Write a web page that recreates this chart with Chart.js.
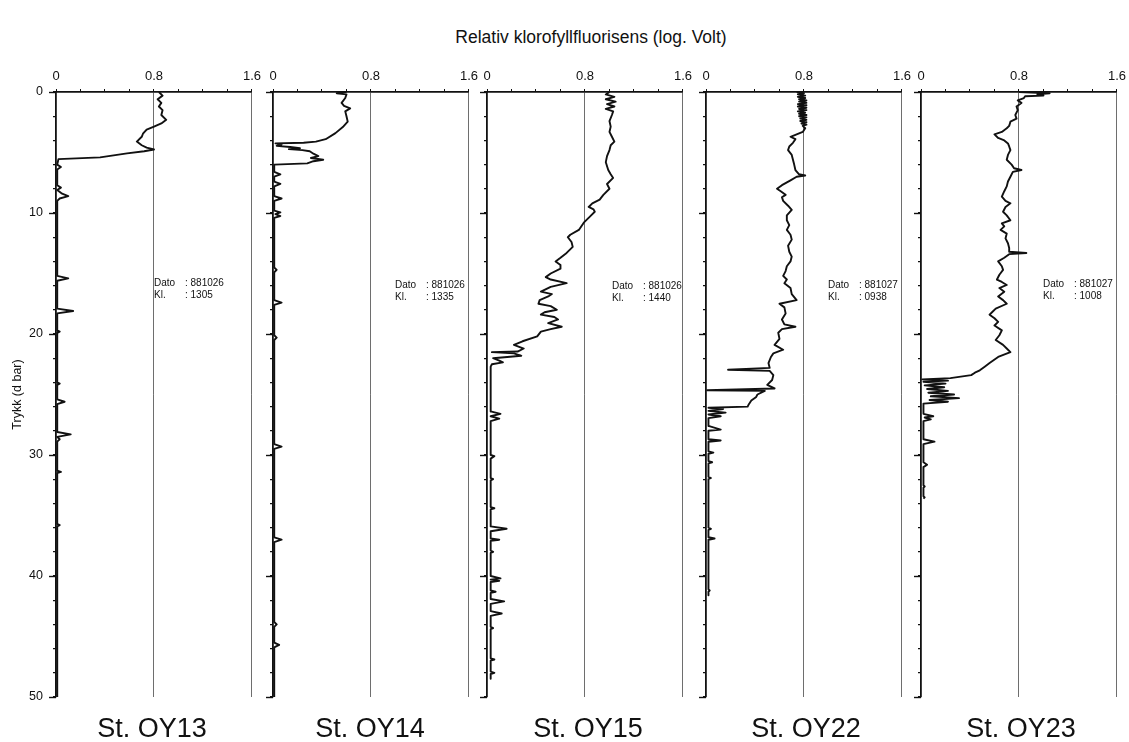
<!DOCTYPE html>
<html><head><meta charset="utf-8">
<script src="https://cdn.jsdelivr.net/npm/chart.js@4.4.0/dist/chart.umd.min.js"></script>
<style>
html,body{margin:0;padding:0;background:#fff;}
body{width:1129px;height:742px;position:relative;overflow:hidden;font-family:"Liberation Sans",Arial,Helvetica,sans-serif;color:#111;}
.wrap{position:absolute;left:0;top:0;}
.txt{position:absolute;white-space:nowrap;line-height:1;}
.c{transform:translate(-50%,-50%);}
.dato{position:absolute;font-size:10px;line-height:12px;white-space:nowrap;color:#111;}
.dato span{display:inline-block;width:31px;}
</style></head><body>
<div class="txt c" id="title" style="left:591px;top:38px;font-size:17.5px;">Relativ klorofyllfluorisens (log. Volt)</div>
<script>
// ---------- DATA ----------
const chartTitle = 'Relativ klorofyllfluorisens (log. Volt)';
const yAxisTitle = 'Trykk (d bar)';
const stations = ['St. OY13', 'St. OY14', 'St. OY15', 'St. OY22', 'St. OY23'];
const datoValues = ['881026', '881026', '881026', '881027', '881027'];
const klValues = ['1305', '1335', '1440', '0938', '1008'];
const xTickLabels = ['0', '0.8', '1.6'];
const yTickLabels = [0, 10, 20, 30, 40, 50];

// profiles: [depth (d bar), relative fluorescence]
const oy13 = [[0,0.84],[0.3,0.87],[0.6,0.83],[0.9,0.86],[1.2,0.84],[1.5,0.87],[1.9,0.86],[2.3,0.90],[2.6,0.86],[2.86,0.80],[3.1,0.74],[3.45,0.71],[3.7,0.70],[4.1,0.66],[4.4,0.70],[4.6,0.74],[4.75,0.80],[4.9,0.72],[5.07,0.58],[5.4,0.36],[5.55,0.02],[6.0,0.01],[6.2,0.04],[6.4,0.01],[7.7,0.01],[7.9,0.04],[8.1,0.01],[8.4,0.05],[8.6,0.10],[8.8,0.03],[9.0,0.01],[15.2,0.01],[15.4,0.10],[15.6,0.01],[17.9,0.01],[18.1,0.14],[18.3,0.01],[19.7,0.01],[19.8,0.03],[19.9,0.01],[24.0,0.01],[24.1,0.03],[24.2,0.01],[25.4,0.01],[25.6,0.07],[25.8,0.01],[28.1,0.01],[28.3,0.12],[28.5,0.01],[28.7,0.03],[28.9,0.01],[31.3,0.01],[31.4,0.04],[31.5,0.01],[35.7,0.01],[35.8,0.03],[35.9,0.01],[50,0.01]];
const oy14 = [[0,0.60],[0.1,0.52],[0.2,0.60],[0.5,0.59],[0.9,0.56],[1.15,0.58],[1.35,0.63],[1.6,0.59],[2.0,0.60],[2.45,0.61],[2.9,0.57],[3.4,0.51],[3.9,0.43],[4.1,0.35],[4.2,0.25],[4.25,0.02],[4.35,0.07],[4.45,0.03],[4.55,0.14],[4.65,0.22],[4.72,0.13],[4.8,0.24],[4.9,0.30],[5.1,0.33],[5.3,0.37],[5.45,0.31],[5.6,0.41],[5.72,0.33],[5.9,0.28],[6.0,0.01],[6.6,0.01],[6.8,0.06],[7.0,0.01],[7.4,0.01],[7.6,0.06],[7.8,0.01],[8.6,0.01],[8.8,0.07],[9.0,0.01],[9.8,0.01],[9.95,0.06],[10.1,0.02],[10.25,0.06],[10.4,0.01],[14.5,0.01],[14.7,0.03],[14.9,0.01],[17.2,0.01],[17.4,0.07],[17.6,0.01],[20.1,0.01],[20.3,0.03],[20.5,0.01],[29.1,0.01],[29.3,0.07],[29.5,0.01],[36.8,0.01],[37.0,0.07],[37.2,0.01],[43.8,0.01],[44.0,0.03],[44.2,0.01],[45.5,0.01],[45.7,0.05],[45.9,0.01],[50,0.01]];
const oy15 = [[0,1.00],[0.2,0.97],[0.4,1.04],[0.6,0.97],[0.8,1.05],[1.0,0.98],[1.2,1.04],[1.4,0.97],[1.6,1.03],[1.9,1.02],[2.4,1.00],[2.86,1.01],[3.3,1.00],[3.7,1.02],[4.1,1.04],[4.4,1.01],[4.8,1.00],[5.3,0.98],[5.8,0.97],[6.45,0.99],[6.8,1.01],[7.1,1.03],[7.6,0.98],[8.0,1.00],[8.5,0.95],[8.9,0.92],[9.2,0.86],[9.5,0.83],[9.7,0.87],[9.9,0.88],[10.3,0.84],[10.8,0.79],[11.4,0.75],[11.8,0.68],[12.0,0.66],[12.4,0.69],[12.8,0.70],[13.3,0.65],[13.7,0.60],[14.0,0.56],[14.3,0.60],[14.6,0.60],[15.0,0.52],[15.3,0.48],[15.5,0.52],[15.8,0.65],[16.1,0.52],[16.5,0.44],[16.7,0.53],[16.9,0.50],[17.2,0.43],[17.5,0.42],[17.7,0.52],[18.0,0.57],[18.2,0.47],[18.4,0.44],[18.6,0.55],[18.8,0.58],[19.1,0.50],[19.4,0.61],[19.6,0.52],[19.8,0.44],[20.2,0.41],[20.6,0.29],[20.9,0.22],[21.2,0.30],[21.45,0.25],[21.5,0.04],[21.6,0.22],[21.8,0.28],[22.0,0.05],[22.2,0.10],[22.35,0.13],[22.5,0.04],[22.7,0.03],[26.4,0.03],[26.6,0.11],[26.8,0.03],[27.0,0.10],[27.2,0.03],[30.0,0.03],[30.1,0.06],[30.3,0.03],[31.9,0.03],[32.0,0.05],[32.1,0.03],[34.3,0.03],[34.4,0.06],[34.5,0.03],[35.9,0.03],[36.1,0.16],[36.3,0.03],[36.9,0.03],[37.0,0.10],[37.1,0.03],[37.9,0.03],[38.0,0.05],[38.1,0.03],[40.0,0.03],[40.2,0.11],[40.3,0.03],[40.4,0.10],[40.5,0.03],[41.2,0.03],[41.3,0.07],[41.4,0.03],[41.9,0.03],[42.1,0.14],[42.3,0.03],[42.9,0.03],[43.1,0.12],[43.3,0.03],[44.2,0.03],[44.3,0.05],[44.4,0.03],[46.8,0.03],[46.9,0.06],[47.0,0.03],[47.9,0.03],[48.0,0.06],[48.1,0.03],[48.5,0.03]];
const oy22 = [[0,0.74],[0.1,0.80],[0.2,0.75],[0.3,0.81],[0.4,0.75],[0.5,0.81],[0.6,0.76],[0.7,0.82],[0.8,0.76],[0.9,0.82],[1.0,0.75],[1.1,0.82],[1.2,0.75],[1.3,0.82],[1.4,0.76],[1.5,0.82],[1.6,0.75],[1.7,0.81],[1.8,0.76],[1.9,0.82],[2.0,0.76],[2.1,0.82],[2.2,0.77],[2.3,0.82],[2.4,0.77],[2.5,0.82],[2.6,0.78],[2.7,0.82],[2.8,0.79],[3.0,0.81],[3.3,0.79],[3.5,0.74],[3.7,0.69],[3.9,0.73],[4.2,0.71],[4.5,0.68],[4.8,0.67],[5.2,0.70],[5.6,0.71],[6.0,0.72],[6.45,0.73],[6.8,0.76],[6.9,0.81],[7.0,0.74],[7.3,0.69],[7.7,0.62],[8.0,0.58],[8.2,0.61],[8.5,0.65],[8.7,0.62],[9.0,0.63],[9.4,0.67],[9.75,0.70],[10.2,0.66],[10.6,0.66],[11.0,0.68],[11.4,0.66],[11.8,0.69],[12.2,0.70],[12.7,0.67],[13.2,0.68],[13.6,0.70],[14.0,0.69],[14.4,0.66],[14.8,0.65],[15.2,0.63],[15.5,0.66],[15.8,0.64],[16.2,0.69],[16.7,0.70],[17.2,0.74],[17.5,0.60],[17.8,0.64],[18.3,0.65],[18.8,0.62],[19.2,0.64],[19.4,0.73],[19.6,0.62],[19.9,0.59],[20.4,0.60],[20.9,0.56],[21.3,0.63],[21.6,0.55],[21.9,0.53],[22.4,0.51],[22.8,0.52],[22.95,0.18],[23.05,0.52],[23.4,0.55],[23.8,0.54],[24.2,0.50],[24.5,0.56],[24.65,0.01],[24.7,0.48],[25.0,0.42],[25.2,0.41],[25.5,0.37],[25.8,0.35],[26.0,0.34],[26.1,0.02],[26.2,0.14],[26.35,0.02],[26.5,0.16],[26.65,0.02],[26.8,0.12],[26.95,0.02],[27.6,0.02],[27.9,0.12],[28.0,0.02],[28.7,0.02],[28.8,0.12],[28.9,0.02],[29.7,0.02],[29.8,0.06],[29.9,0.02],[30.5,0.02],[30.6,0.05],[30.7,0.02],[31.8,0.02],[31.9,0.04],[32.0,0.02],[36.0,0.02],[36.1,0.04],[36.2,0.02],[36.8,0.02],[36.9,0.07],[37.0,0.02],[41.1,0.02],[41.2,0.03],[41.3,0.02],[41.6,0.02]];
const oy23 = [[0,0.80],[0.1,1.05],[0.2,0.95],[0.3,1.00],[0.35,0.85],[0.5,0.84],[0.7,0.79],[0.9,0.82],[1.2,0.78],[1.5,0.79],[1.9,0.77],[2.2,0.78],[2.45,0.73],[2.8,0.72],[3.0,0.70],[3.3,0.66],[3.5,0.60],[3.8,0.63],[4.0,0.68],[4.25,0.71],[4.5,0.72],[4.8,0.73],[5.2,0.71],[5.6,0.70],[6.0,0.74],[6.3,0.76],[6.45,0.82],[6.6,0.75],[7.0,0.73],[7.4,0.71],[7.8,0.70],[8.2,0.68],[8.65,0.66],[9.0,0.69],[9.2,0.73],[9.5,0.69],[9.9,0.67],[10.2,0.70],[10.6,0.73],[10.85,0.66],[11.1,0.68],[11.4,0.65],[11.7,0.70],[12.1,0.69],[12.5,0.71],[12.9,0.72],[13.2,0.72],[13.3,0.86],[13.4,0.72],[13.7,0.68],[14.0,0.63],[14.4,0.66],[14.7,0.67],[15.1,0.64],[15.5,0.62],[15.7,0.66],[15.95,0.70],[16.2,0.64],[16.5,0.68],[16.9,0.63],[17.2,0.67],[17.5,0.70],[17.9,0.61],[18.2,0.58],[18.4,0.56],[18.7,0.60],[19.0,0.63],[19.3,0.60],[19.7,0.66],[20.1,0.64],[20.5,0.61],[20.9,0.67],[21.2,0.70],[21.5,0.73],[21.9,0.63],[22.4,0.56],[22.7,0.52],[23.0,0.48],[23.2,0.44],[23.4,0.41],[23.65,0.24],[23.75,0.01],[23.85,0.22],[23.95,0.02],[24.1,0.20],[24.25,0.03],[24.4,0.19],[24.55,0.05],[24.7,0.22],[24.85,0.06],[25.0,0.27],[25.15,0.08],[25.3,0.31],[25.45,0.07],[25.6,0.22],[25.75,0.02],[25.9,0.02],[26.6,0.02],[26.8,0.10],[26.9,0.03],[27.05,0.08],[27.2,0.02],[28.7,0.02],[28.9,0.11],[29.1,0.02],[30.6,0.02],[30.8,0.05],[31.0,0.02],[32.5,0.02],[32.6,0.03],[32.7,0.02],[33.4,0.02],[33.5,0.03],[33.6,0.02]];
const profiles = [oy13, oy14, oy15, oy22, oy23];

// ---------- LAYOUT (pixels) ----------
const panelLeft = [56, 273, 487, 706, 921];
const panelWidth = 196, plotTop = 92, plotHeight = 605;
const labelCenterX = [152, 370, 588, 806, 1021];
const datoPos = [[154, 277], [395, 279], [612, 280], [828, 279], [1043, 278]];

const FONT = '"Liberation Sans", Arial, Helvetica, sans-serif';
const INK = '#111';

const majorTicks = {
  id: 'majorTicks',
  afterDraw(chart) {
    const { ctx, chartArea, scales } = chart;
    ctx.save();
    ctx.strokeStyle = INK; ctx.lineWidth = 1.4;
    yTickLabels.forEach(v => {
      const py = Math.round(scales.y.getPixelForValue(v)) + 0.5;
      ctx.beginPath(); ctx.moveTo(chartArea.left - 7, py); ctx.lineTo(chartArea.left, py); ctx.stroke();
    });
    ctx.restore();
  }
};

const xMajor = xTickLabels.map(Number);
function xLabel(v) {
  for (let k = 0; k < xMajor.length; k++) if (Math.abs(v - xMajor[k]) < 1e-6) return xTickLabels[k];
  return '';
}

function config(i) {
  const first = i === 0;
  return {
    type: 'scatter',
    data: { datasets: [{
      data: profiles[i].map(p => ({ x: p[1], y: p[0] })),
      showLine: true, borderColor: INK, borderWidth: 1.9, pointRadius: 0,
      tension: 0, fill: false, borderJoinStyle: 'round'
    }]},
    plugins: [majorTicks],
    options: {
      responsive: false, maintainAspectRatio: false, animation: false, devicePixelRatio: 1, events: [],
      layout: { padding: { left: 0, right: 14, top: 0, bottom: 20 } },
      plugins: { legend: { display: false }, tooltip: { enabled: false }, title: { display: false } },
      scales: {
        x: {
          type: 'linear', position: 'top', min: 0, max: 1.6,
          afterFit(s) { s.height = plotTop; },
          ticks: { stepSize: 0.2, autoSkip: false, maxRotation: 0, padding: 5, color: INK,
                   font: { family: FONT, size: 13 }, callback: v => xLabel(v) },
          grid: { drawOnChartArea: true, tickLength: 3, tickColor: INK, lineWidth: 1,
                  color: ctx => (ctx.tick && (Math.abs(ctx.tick.value - 0.8) < 1e-6 || Math.abs(ctx.tick.value - 1.6) < 1e-6)) ? '#6e6e6e' : 'rgba(0,0,0,0)' },
          border: { display: true, color: INK, width: 1.7 }
        },
        y: {
          type: 'linear', reverse: true, min: 0, max: 50,
          afterFit(s) { s.width = first ? 56 : 20; },
          ticks: { stepSize: 2, autoSkip: false, padding: 10, color: INK,
                   font: { family: FONT, size: 12.5 },
                   callback: v => (first && yTickLabels.includes(v)) ? String(v) : '' },
          grid: { drawOnChartArea: false, tickLength: 3, tickColor: INK, lineWidth: 1.2 },
          border: { display: true, color: INK, width: 1.8 },
          title: { display: first, text: yAxisTitle, color: INK, font: { family: FONT, size: 12.5 },
                   padding: { top: 10, bottom: 0 } }
        }
      }
    }
  };
}

function build(i) {
  const wrap = document.createElement('div');
  wrap.className = 'wrap';
  document.body.appendChild(wrap);
  let w = (i === 0 ? 56 : 20) + panelWidth + 14, h = plotTop + plotHeight + 20;
  let cv = document.createElement('canvas');
  cv.width = w; cv.height = h; cv.style.width = w + 'px'; cv.style.height = h + 'px';
  wrap.appendChild(cv);
  let chart = new Chart(cv, config(i));
  const a = chart.chartArea;
  const dw = panelWidth - (a.right - a.left), dh = plotHeight - (a.bottom - a.top);
  if (Math.abs(dw) > 0.01 || Math.abs(dh) > 0.01) {
    chart.destroy(); wrap.removeChild(cv);
    w += dw; h += dh;
    cv = document.createElement('canvas');
    cv.width = w; cv.height = h; cv.style.width = w + 'px'; cv.style.height = h + 'px';
    wrap.appendChild(cv);
    chart = new Chart(cv, config(i));
  }
  const b = chart.chartArea;
  wrap.style.left = (panelLeft[i] - b.left) + 'px';
  wrap.style.top = (plotTop - b.top) + 'px';
}

for (let i = 0; i < profiles.length; i++) build(i);

// text labels
stations.forEach((s, i) => {
  const d = document.createElement('div');
  d.className = 'txt c';
  d.style.left = labelCenterX[i] + 'px'; d.style.top = '728px'; d.style.fontSize = '27px';
  d.textContent = s;
  document.body.appendChild(d);
  const t = document.createElement('div');
  t.className = 'dato';
  t.style.left = datoPos[i][0] + 'px'; t.style.top = datoPos[i][1] + 'px';
  t.innerHTML = '<span>Dato</span>: ' + datoValues[i] + '<br><span>Kl.</span>: ' + klValues[i];
  document.body.appendChild(t);
});
document.getElementById('title').textContent = chartTitle;
</script>
</body></html>
